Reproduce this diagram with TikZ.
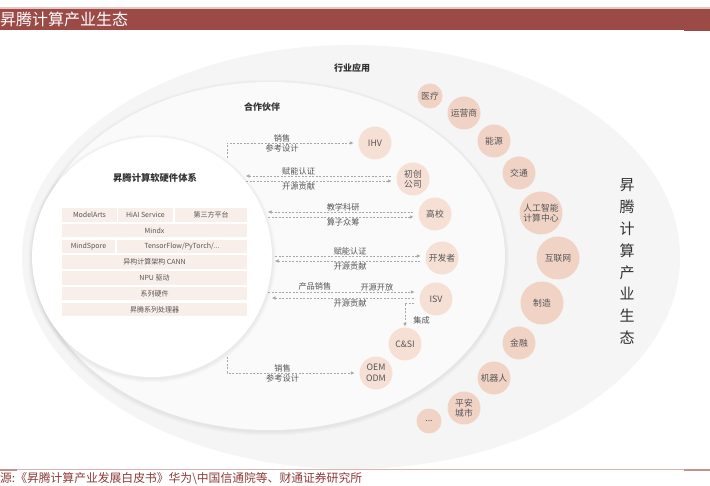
\documentclass[tikz,border=0pt]{standalone}
\usepackage{fontspec}
\setmainfont{Noto Sans CJK SC}
\usetikzlibrary{positioning, arrows.meta}
\definecolor{barred}{HTML}{9B4A46}
\definecolor{barline}{HTML}{E5C7C4}
\definecolor{footline}{HTML}{DDB3AF}
\definecolor{footdark}{HTML}{C98F8B}
\definecolor{srcred}{HTML}{8E3B38}
\definecolor{outerbg}{HTML}{F5F5F5}
\definecolor{midbg}{HTML}{FAFAFA}
\definecolor{cellfill}{HTML}{F9EFEA}
\definecolor{partnerfill}{HTML}{F6E0D6}
\definecolor{industryfill}{HTML}{F1D3C6}
\definecolor{txt}{HTML}{555555}
\definecolor{ink}{HTML}{333333}
\definecolor{dashgray}{HTML}{A8A8A8}
\tikzset{
  cell/.style     = {rectangle, fill=cellfill, inner sep=0pt, minimum height=13.5pt,
                     font=\fontsize{7}{8}\selectfont, text=txt},
  head/.style     = {font=\fontsize{9}{10}\selectfont\bfseries, text=ink, inner sep=1pt},
  partner/.style  = {circle, fill=partnerfill, minimum size=33pt, inner sep=0pt,
                     align=center, font=\fontsize{8.8}{10.5}\selectfont, text=txt},
  industry/.style = {circle, fill=industryfill, minimum size=33pt, inner sep=0pt,
                     align=center, font=\fontsize{8.8}{10.5}\selectfont, text=txt},
  lbl/.style      = {font=\fontsize{8.2}{9}\selectfont, text=txt, inner sep=1pt},
  dar/.style      = {-{Triangle[length=3.5pt,width=3.2pt]}, draw=dashgray, line width=0.6pt,
                     dash pattern=on 2pt off 1.5pt, shorten >=5pt},
  rdar/.style     = {{Triangle[length=3.5pt,width=3.2pt]}-, draw=dashgray, line width=0.6pt,
                     dash pattern=on 2pt off 1.5pt, shorten >=5pt},
  halo/.style     = {draw=black, draw opacity=0.016},
}
\begin{document}
\begin{tikzpicture}[x=1pt, y=-1pt]

  \useasboundingbox (0,0) rectangle (710,486);
  \fill[white] (0,0) rectangle (710,486);

  % header and footer
  \fill[barline] (0,7.2) rectangle (710,9);
  \fill[barred] (0,9) rectangle (710,30);
  \fill[barred] (684,30) rectangle (710,31);
  \node[anchor=west, inner sep=0pt, text=white, font=\fontsize{16}{16}\selectfont]
       (bartitle) at (0,19.5) {昇腾计算产业生态};
  \fill[footline] (0,468.8) rectangle (710,469.8);
  \fill[footdark] (0,468.5) rectangle (17,470.5);
  \fill[footdark] (684,468.5) rectangle (710,470.5);
  \node[anchor=west, inner sep=0pt, text=srcred, font=\fontsize{11.8}{12}\selectfont]
       (src) at (0,479) {源:《昇腾计算产业发展白皮书》华为\textbackslash 中国信通院等、财通证券研究所};

  % rings, with a soft edge
  \fill[outerbg] (351,257) ellipse [x radius=329pt, y radius=212pt];
  \foreach \w in {8,6,4,2}
    \draw[halo, line width=\w pt] (270,257.5) ellipse [x radius=235pt, y radius=174pt];
  \fill[midbg] (270,256) ellipse [x radius=235pt, y radius=174pt];
  \foreach \w in {8,6,4,2}
    \draw[halo, line width=\w pt] (152,258.5) circle [radius=120pt];
  \fill[white] (152,257) circle [radius=120pt];

  \node[head] (indtitle) at (352,68) {行业应用};
  \node[head] (ptitle) at (262,107) {合作伙伴};
  \node[head, font=\fontsize{9.3}{10}\selectfont\bfseries] (stitle) at (155,178) {昇腾计算软硬件体系};

  % software / hardware stack
  \node[cell, minimum width=55pt] (c11) at (89.5,215) {ModelArts};
  \node[cell, minimum width=55pt] (c12) at (145.5,215) {HiAI Service};
  \node[cell, minimum width=72pt] (c13) at (211,215) {第三方平台};
  \node[cell, minimum width=185pt] (c2) at (154.5,230.75) {Mindx};
  \node[cell, minimum width=53pt] (c31) at (88.5,246.5) {MindSpore};
  \node[cell, minimum width=130pt] (c32) at (182,246.5) {TensorFlow/PyTorch/...};
  \node[cell, minimum width=185pt] (c4) at (154.5,262.25) {异构计算架构 CANN};
  \node[cell, minimum width=185pt] (c5) at (154.5,278) {NPU 驱动};
  \node[cell, minimum width=185pt] (c6) at (154.5,293.75) {系列硬件};
  \node[cell, minimum width=185pt] (c7) at (154.5,309.5) {昇腾系列处理器};

  % partners
  \node[partner] (ihv) at (375,143) {IHV};
  \node[partner] (startup) at (413,179) {初创\\公司};
  \node[partner] (univ) at (435,214) {高校};
  \node[partner] (dev) at (442,258) {开发者};
  \node[partner] (isv) at (436,299) {ISV};
  \node[partner] (csi) at (405,344) {C\&SI};
  \node[partner] (oem) at (376,373) {OEM\\ODM};

  % industries
  \node[industry, minimum size=25pt] (med) at (430,96) {医疗};
  \node[industry] (tel) at (464,113) {运营商};
  \node[industry] (energy) at (494,141) {能源};
  \node[industry] (traffic) at (519,173) {交通};
  \node[industry, minimum size=43pt] (aic) at (541,213) {人工智能\\计算中心};
  \node[industry, minimum size=43pt] (web) at (558,258) {互联网};
  \node[industry, minimum size=43pt] (mfg) at (542,303) {制造};
  \node[industry] (fin) at (519,343) {金融};
  \node[industry] (robot) at (494,378) {机器人};
  \node[industry] (city) at (464,408) {平安\\城市};
  \node[industry, minimum size=25pt] (more) at (429,421) {...};

  \node[text=ink, align=center, font=\fontsize{15}{21.9}\selectfont]
       (vtitle) at (627,261.5) {昇\\腾\\计\\算\\产\\业\\生\\态};

  % links between stack and partners
  \coordinate (ihvsrc) at (227,158);
  \coordinate (su_l) at (246,176);
  \coordinate (su_r) at (246,181);
  \coordinate (un_l) at (268,212);
  \coordinate (un_r) at (268,217);
  \coordinate (dv_a) at (275,256);
  \coordinate (dv_b) at (275,261);
  \coordinate (is_a) at (268,292);
  \coordinate (is_b) at (272,298);
  \coordinate (oemsrc) at (227,357);

  \draw[dar] (ihvsrc) |- node[lbl, above, pos=0.71] (ihvsale) {销售}
                         node[lbl, below, pos=0.71] (ihvref) {参考设计} (ihv.west);
  \draw[rdar] (su_l) -- node[lbl, above, pos=0.35] (suenable) {赋能认证} (startup.west |- su_l);
  \draw[dar] (su_r) -- node[lbl, below, pos=0.35] (sucontrib) {开源贡献} (startup.west |- su_r);
  \draw[rdar] (un_l) -- node[lbl, above] (unteach) {教学科研} (univ.west |- un_l);
  \draw[dar] (un_r) -- node[lbl, below] (unop) {算子众筹} (univ.west |- un_r);
  \draw[dar] (dv_a) -- node[lbl, above] (dvenable) {赋能认证} (dev.west |- dv_a);
  \draw[rdar] (dv_b) -- node[lbl, below] (dvcontrib) {开源贡献} (dev.west |- dv_b);
  \draw[dar] (is_a) -- node[lbl, above, pos=0.31] (issale) {产品销售}
                       node[lbl, above, pos=0.72] (isopen) {开源开放} (isv.west |- is_a);
  \draw[rdar] (is_b) -- node[lbl, below, pos=0.53] (iscontrib) {开源贡献} (isv.west |- is_b);
  \draw[dar, shorten <=5pt, shorten >=1pt] ([yshift=-4pt]isv.west) -|
       node[lbl, right=7pt, pos=0.85] (isint) {集成} (csi.north);
  \draw[dar] (oemsrc) |- node[lbl, above, pos=0.71] (oemsale) {销售}
                         node[lbl, below, pos=0.71] (oemref) {参考设计} (oem.west);

\end{tikzpicture}
\end{document}
